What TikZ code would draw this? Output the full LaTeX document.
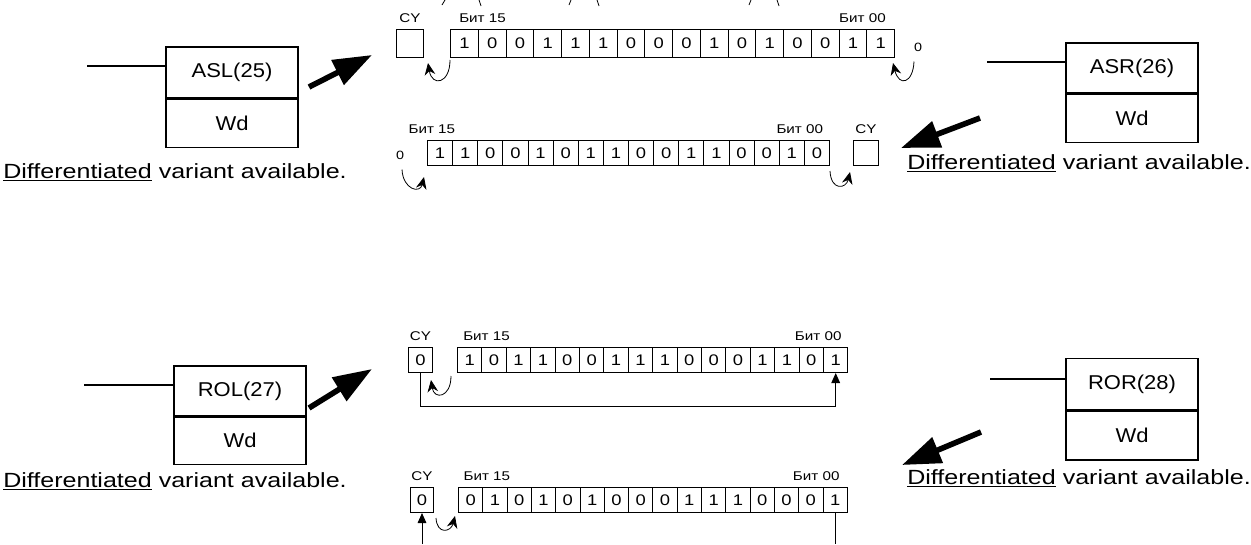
\documentclass[tikz,border=0pt]{standalone}
\usepackage{fontspec}
\setmainfont{Liberation Sans}
\newfontfamily\boxfont[FakeStretch=1.1]{Liberation Sans}
\newfontfamily\notefont[FakeStretch=1.22]{Liberation Sans}
\newfontfamily\bitfont[FakeStretch=1.2]{Liberation Sans}
\usetikzlibrary{arrows.meta,positioning}

\tikzset{
  fbox/.style={draw, line width=1pt, minimum width=99pt, inner sep=0pt, font=\boxfont\fontsize{15}{18}\selectfont},
  cell/.style={draw, line width=0.75pt, inner sep=0pt, anchor=north west, font=\bitfont\fontsize{11.5}{13}\selectfont},
  lbl/.style={inner sep=0pt, font=\bitfont\fontsize{9.5}{11}\selectfont},
  zero/.style={inner sep=0pt, font=\bitfont\fontsize{9}{10}\selectfont},
  note/.style={inner sep=0pt, anchor=base west, font=\notefont\fontsize{15.4}{18}\selectfont},
  bigarrow/.style={line width=4.2pt, -{Triangle[length=29pt,width=20pt]}},
  shiftarrow/.style={line width=0.6pt, -{Stealth[length=9pt,width=8pt]}},
  looparrow/.style={line width=0.75pt, -{Triangle[length=7.5pt,width=6.5pt]}},
}

% one register: name, left x, top y, cell width, cell height, bits
\newcommand{\bitrow}[6]{%
  \foreach \b [count=\i] in {#6}
    \node[cell, minimum width=#4*0.75pt, minimum height=#5*0.75pt] (#1-\i) at ({#2+(\i-1)*#4},#3) {\b};
}

\begin{document}
\begin{tikzpicture}[x=0.75pt,y=-0.75pt]
\useasboundingbox (0,0) rectangle (1251,544);

% ASL(25)
\node[fbox, minimum height=38.25pt] (asl) at (232,72.5) {ASL(25)};
\node[fbox, minimum height=36pt, below=0pt of asl] (aslwd) {Wd};
\coordinate (aslin) at (87,66);
\draw[line width=1pt] (aslin) -- (aslin -| asl.west);
\node[note] (aslnote) at (3,178) {\underline{Differentiated} variant available.};
\coordinate (asltail) at (309,87);
\coordinate (asltip) at (372,55);
\draw[bigarrow] (asltail) -- (asltip);

\node[cell, minimum width=20.25pt, minimum height=21pt] (aslcy) at (396,29) {};
\bitrow{asl}{450}{29}{27.75}{28}{1,0,0,1,1,1,0,0,0,1,0,1,0,0,1,1}
\node[lbl, above=4.3pt of aslcy] (aslcyl) {CY};
\node[lbl, above right=4.3pt and 6.75pt of asl-1.north west] (aslhi) {Бит 15};
\node[lbl, above left=4.3pt and 6.75pt of asl-16.north east] (asllo) {Бит 00};
\node[zero] (aslzero) at (918,47) {0};
\draw[shiftarrow] ([shift={(0,2)}]asl-1.south west) .. controls +(0,24) and +(4,24) .. ([shift={(4,5)}]aslcy.south east);
\draw[shiftarrow] ([shift={(-4,10)}]aslzero.south) .. controls +(-1,22) and +(6,24) .. ([shift={(-2,5)}]asl-16.south east);

% ASR(26)
\node[fbox, minimum height=37.5pt] (asr) at (1132,68) {ASR(26)};
\node[fbox, minimum height=36pt, below=0pt of asr] (asrwd) {Wd};
\coordinate (asrin) at (987,62);
\draw[line width=1pt] (asrin) -- (asrin -| asr.west);
\node[note] (asrnote) at (907,169) {\underline{Differentiated} variant available.};
\coordinate (asrtail) at (980,118);
\coordinate (asrtip) at (901,148);
\draw[bigarrow] (asrtail) -- (asrtip);

\bitrow{asr}{427}{140}{25.125}{25}{1,1,0,0,1,0,1,1,0,0,1,1,0,0,1,0}
\node[cell, minimum width=18.75pt, minimum height=18.75pt] (asrcy) at (853,140) {};
\node[lbl, above=4.3pt of asrcy] (asrcyl) {CY};
\node[lbl, above right=4.3pt and -14pt of asr-1.north west] (asrhi) {Бит 15};
\node[lbl, above left=4.3pt and 5pt of asr-16.north east] (asrlo) {Бит 00};
\node[zero] (asrzero) at (400,155) {0};
\draw[shiftarrow] ([shift={(2,10)}]asrzero.south) .. controls +(1,20) and +(-4,17) .. ([shift={(-3,11)}]asr-1.south west);
\draw[shiftarrow] ([shift={(0,5)}]asr-16.south east) .. controls +(1,20) and +(-4,17) .. ([shift={(-3,6)}]asrcy.south west);

% ROL(27)
\node[fbox, minimum height=37.5pt] (rol) at (240,391) {ROL(27)};
\node[fbox, minimum height=35.25pt, below=0pt of rol] (rolwd) {Wd};
\coordinate (rolin) at (84,385);
\draw[line width=1pt] (rolin) -- (rolin -| rol.west);
\node[note] (rolnote) at (3,487) {\underline{Differentiated} variant available.};
\coordinate (roltail) at (309,408);
\coordinate (roltip) at (372,369);
\draw[bigarrow] (roltail) -- (roltip);

\node[cell, minimum width=18pt, minimum height=18.75pt] (rolcy) at (408,347) {0};
\bitrow{rol}{457}{347}{24.4}{25}{1,0,1,1,0,0,1,1,1,0,0,0,1,1,0,1}
\node[lbl, above=4.3pt of rolcy] (rolcyl) {CY};
\node[lbl, above right=4.3pt and 4.5pt of rol-1.north west] (rolhi) {Бит 15};
\node[lbl, above left=4.3pt and 5pt of rol-16.north east] (rollo) {Бит 00};
\draw[shiftarrow] ([shift={(-6,3)}]rol-1.south west) .. controls +(0,22) and +(3,20) .. ([shift={(-2,7)}]rolcy.south east);
\draw[looparrow] (rolcy.south) -- ++(0,33) -| (rol-16.south);

% ROR(28)
\node[fbox, minimum height=38.25pt] (ror) at (1132,384) {ROR(28)};
\node[fbox, minimum height=36.75pt, below=0pt of ror] (rorwd) {Wd};
\coordinate (rorin) at (990,379);
\draw[line width=1pt] (rorin) -- (rorin -| ror.west);
\node[note] (rornote) at (907,484) {\underline{Differentiated} variant available.};
\coordinate (rortail) at (981,432);
\coordinate (rortip) at (902,465);
\draw[bigarrow] (rortail) -- (rortip);

\node[cell, minimum width=17.25pt, minimum height=18.75pt] (rorcy) at (410,487) {0};
\bitrow{ror}{458}{487}{24.3}{25}{0,1,0,1,0,1,0,0,0,1,1,1,0,0,0,1}
\node[lbl, above=4.3pt of rorcy] (rorcyl) {CY};
\node[lbl, above right=4.3pt and 4pt of ror-1.north west] (rorhi) {Бит 15};
\node[lbl, above left=4.3pt and 6pt of ror-16.north east] (rorlo) {Бит 00};
\draw[shiftarrow] ([shift={(2,5)}]rorcy.south east) .. controls +(1,17) and +(-4,16) .. ([shift={(-3,3)}]ror-1.south west);
\coordinate (rorbot) at (0,544);
\draw[line width=0.75pt] (ror-16.south) -- (ror-16.south |- rorbot);
\draw[looparrow] (rorcy.south |- rorbot) -- (rorcy.south);

% cut-off strokes along the top edge
\draw[line width=0.6pt] (442,5) -- (445,0) (479,0) -- (481,6)
  (569,5) -- (571,0) (597,0) -- (599,6)
  (749,5) -- (751,0) (777,0) -- (779,6);
\end{tikzpicture}
\end{document}
